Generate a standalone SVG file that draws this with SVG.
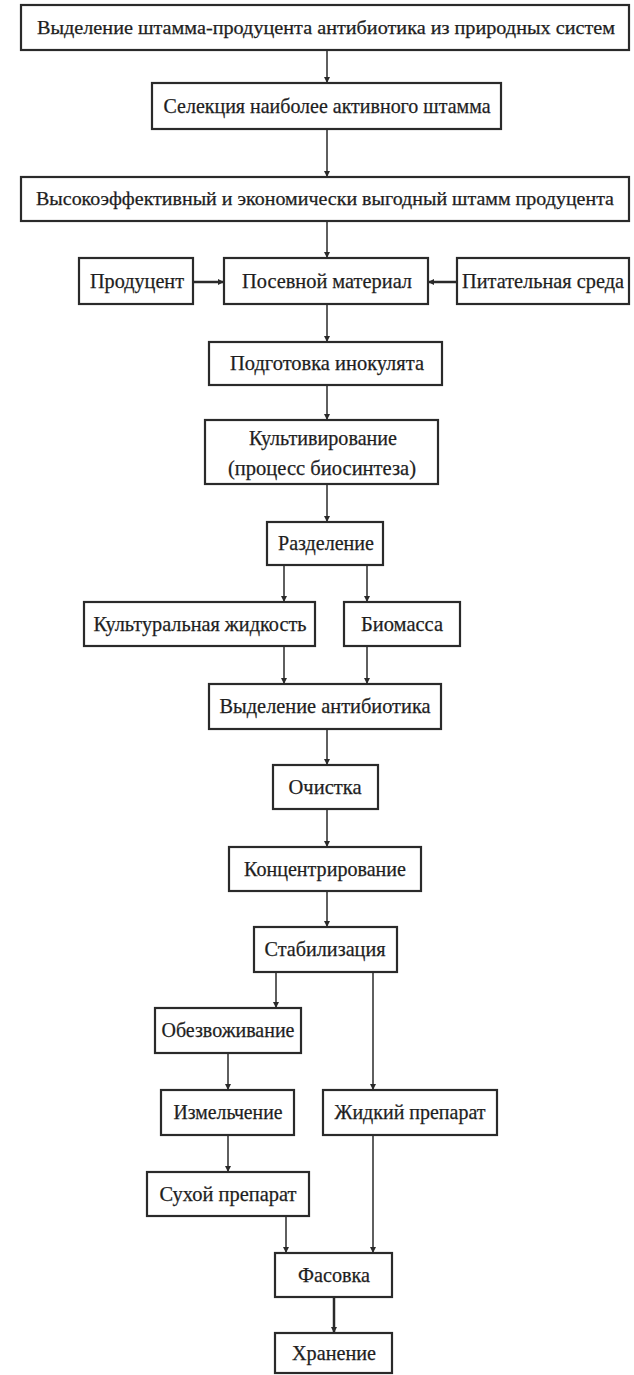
<svg xmlns="http://www.w3.org/2000/svg" width="634" height="1375" viewBox="0 0 634 1375">
<style>
.box{fill:#fff;stroke:#2a2a2a;stroke-width:2.2}
.t{font-family:"Liberation Serif","Times New Roman",serif;font-size:21px;fill:#1e1e1e;stroke:#1e1e1e;stroke-width:0.25;text-anchor:middle}
.s{font-size:19px}
.c{fill:none;stroke:#2a2a2a;stroke-width:1.5}
</style>
<defs>
<marker id="ah" markerUnits="userSpaceOnUse" markerWidth="7" markerHeight="7" refX="6" refY="3" orient="auto">
<path d="M0,0 L6,3 L0,6 z" fill="#2a2a2a"/>
</marker>
</defs>
<rect width="634" height="1375" fill="#fff"/>
<g id="connectors">
<line class="c" x1="327" y1="50" x2="327" y2="83" marker-end="url(#ah)"/>
<line class="c" x1="327" y1="129" x2="327" y2="177" marker-end="url(#ah)"/>
<line class="c" x1="327" y1="221" x2="327" y2="258" marker-end="url(#ah)"/>
<line class="c" x1="193" y1="282" x2="224" y2="282" marker-end="url(#ah)" style="stroke-width:2.5"/>
<line class="c" x1="457" y1="282" x2="428" y2="282" marker-end="url(#ah)" style="stroke-width:2.5"/>
<line class="c" x1="327" y1="304" x2="327" y2="342" marker-end="url(#ah)"/>
<line class="c" x1="327" y1="385" x2="327" y2="420" marker-end="url(#ah)"/>
<line class="c" x1="327" y1="484" x2="327" y2="522" marker-end="url(#ah)"/>
<line class="c" x1="284" y1="565" x2="284" y2="602" marker-end="url(#ah)"/>
<line class="c" x1="367" y1="565" x2="367" y2="602" marker-end="url(#ah)"/>
<line class="c" x1="284" y1="646" x2="284" y2="684" marker-end="url(#ah)"/>
<line class="c" x1="367" y1="646" x2="367" y2="684" marker-end="url(#ah)"/>
<line class="c" x1="327" y1="729" x2="327" y2="765" marker-end="url(#ah)"/>
<line class="c" x1="327" y1="809" x2="327" y2="847" marker-end="url(#ah)"/>
<line class="c" x1="327" y1="891" x2="327" y2="927" marker-end="url(#ah)"/>
<line class="c" x1="276" y1="972" x2="276" y2="1008" marker-end="url(#ah)"/>
<line class="c" x1="373" y1="972" x2="373" y2="1090" marker-end="url(#ah)"/>
<line class="c" x1="228" y1="1053" x2="228" y2="1090" marker-end="url(#ah)"/>
<line class="c" x1="228" y1="1135" x2="228" y2="1172" marker-end="url(#ah)"/>
<line class="c" x1="373" y1="1135" x2="373" y2="1253" marker-end="url(#ah)"/>
<line class="c" x1="286" y1="1216" x2="286" y2="1253" marker-end="url(#ah)"/>
<line class="c" x1="334" y1="1297" x2="334" y2="1333" marker-end="url(#ah)" style="stroke-width:2.5"/>
</g>
<g id="n1"><rect class="box" x="21" y="5" width="608" height="45"/><text class="t s" x="326" y="34" textLength="578" lengthAdjust="spacingAndGlyphs">Выделение штамма-продуцента антибиотика из природных систем</text></g>
<g id="n2"><rect class="box" x="152" y="83" width="349" height="46"/><text class="t" x="327" y="113" textLength="327" lengthAdjust="spacingAndGlyphs">Селекция наиболее активного штамма</text></g>
<g id="n3"><rect class="box" x="21" y="177" width="608" height="44"/><text class="t s" x="325" y="205" textLength="578" lengthAdjust="spacingAndGlyphs">Высокоэффективный и экономически выгодный штамм продуцента</text></g>
<g id="n4"><rect class="box" x="79" y="258" width="114" height="46"/><text class="t" x="137" y="288" textLength="94" lengthAdjust="spacingAndGlyphs">Продуцент</text></g>
<g id="n5"><rect class="box" x="224" y="258" width="204" height="46"/><text class="t" x="327" y="288" textLength="170" lengthAdjust="spacingAndGlyphs">Посевной материал</text></g>
<g id="n6"><rect class="box" x="457" y="258" width="172" height="46"/><text class="t" x="543" y="288" textLength="162" lengthAdjust="spacingAndGlyphs">Питательная среда</text></g>
<g id="n7"><rect class="box" x="209" y="342" width="233" height="43"/><text class="t" x="327" y="370" textLength="194" lengthAdjust="spacingAndGlyphs">Подготовка инокулята</text></g>
<g id="n8"><rect class="box" x="205" y="420" width="233" height="64"/><text class="t" x="323" y="445" textLength="148" lengthAdjust="spacingAndGlyphs">Культивирование</text><text class="t" x="322" y="475" textLength="188" lengthAdjust="spacingAndGlyphs">(процесс биосинтеза)</text></g>
<g id="n9"><rect class="box" x="267" y="522" width="116" height="43"/><text class="t" x="326" y="550" textLength="96" lengthAdjust="spacingAndGlyphs">Разделение</text></g>
<g id="n10"><rect class="box" x="84" y="602" width="231" height="44"/><text class="t" x="200" y="631" textLength="213" lengthAdjust="spacingAndGlyphs">Культуральная жидкость</text></g>
<g id="n11"><rect class="box" x="344" y="602" width="116" height="44"/><text class="t" x="402" y="631" textLength="82" lengthAdjust="spacingAndGlyphs">Биомасса</text></g>
<g id="n12"><rect class="box" x="209" y="684" width="232" height="45"/><text class="t" x="325" y="713" textLength="211" lengthAdjust="spacingAndGlyphs">Выделение антибиотика</text></g>
<g id="n13"><rect class="box" x="273" y="765" width="105" height="44"/><text class="t" x="325" y="794" textLength="73" lengthAdjust="spacingAndGlyphs">Очистка</text></g>
<g id="n14"><rect class="box" x="229" y="847" width="192" height="44"/><text class="t" x="325" y="876" textLength="162" lengthAdjust="spacingAndGlyphs">Концентрирование</text></g>
<g id="n15"><rect class="box" x="254" y="927" width="143" height="45"/><text class="t" x="325" y="956" textLength="121" lengthAdjust="spacingAndGlyphs">Стабилизация</text></g>
<g id="n16"><rect class="box" x="155" y="1008" width="146" height="45"/><text class="t" x="228" y="1037" textLength="133" lengthAdjust="spacingAndGlyphs">Обезвоживание</text></g>
<g id="n17"><rect class="box" x="161" y="1090" width="133" height="45"/><text class="t" x="228" y="1119" textLength="109" lengthAdjust="spacingAndGlyphs">Измельчение</text></g>
<g id="n18"><rect class="box" x="323" y="1090" width="174" height="45"/><text class="t" x="410" y="1119" textLength="151" lengthAdjust="spacingAndGlyphs">Жидкий препарат</text></g>
<g id="n19"><rect class="box" x="147" y="1172" width="162" height="44"/><text class="t" x="228" y="1201" textLength="137" lengthAdjust="spacingAndGlyphs">Сухой препарат</text></g>
<g id="n20"><rect class="box" x="275" y="1253" width="117" height="44"/><text class="t" x="334" y="1282" textLength="72" lengthAdjust="spacingAndGlyphs">Фасовка</text></g>
<g id="n21"><rect class="box" x="275" y="1333" width="117" height="40"/><text class="t" x="334" y="1360" textLength="84" lengthAdjust="spacingAndGlyphs">Хранение</text></g>
</svg>
